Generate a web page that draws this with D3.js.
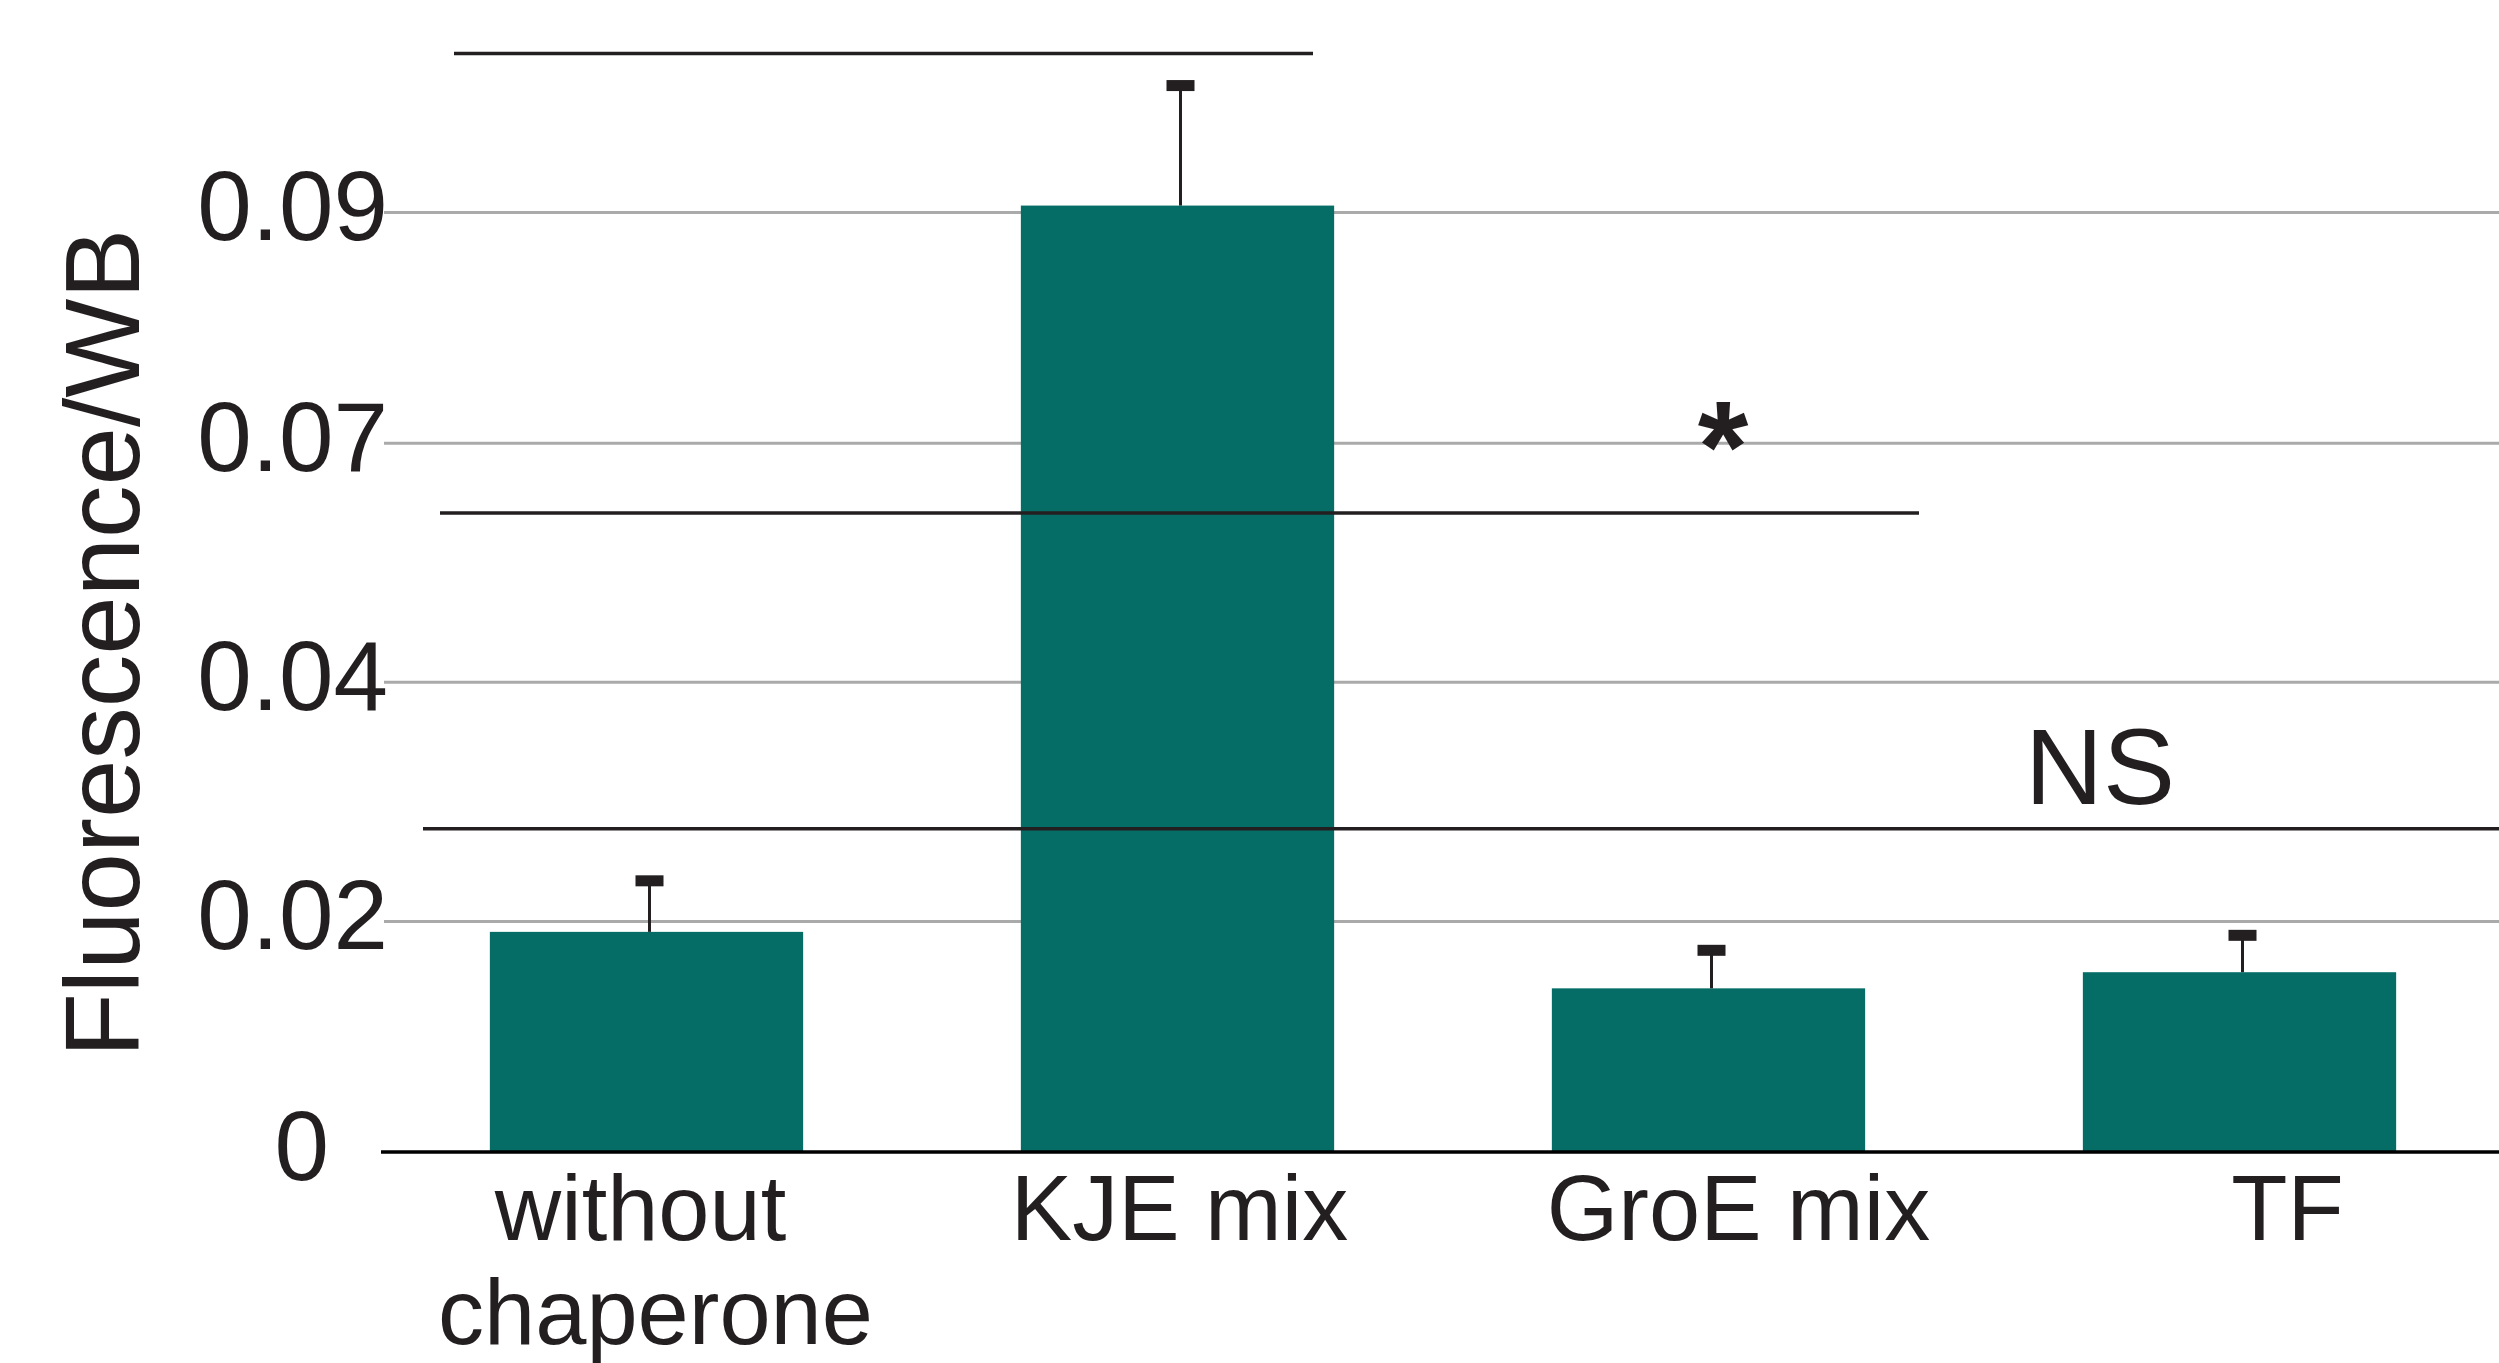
<!DOCTYPE html>
<html>
<head>
<meta charset="utf-8">
<script src="https://cdn.jsdelivr.net/npm/d3@7"></script>
<style>
  html, body { margin: 0; padding: 0; background: #ffffff; }
  svg { display: block; }
  text { font-family: "Liberation Sans", Arial, Helvetica, sans-serif; fill: #231f20; }
</style>
</head>
<body>
<svg id="chart" width="2499" height="1363"></svg>
<script>
// ---- data ----
const categories = ["without chaperone", "KJE mix", "GroE mix", "TF"];
const categoryLines = [["without", "chaperone"], ["KJE mix"], ["GroE mix"], ["TF"]];
const meanValues = [0.0191, 0.0906, 0.0142, 0.0156];
const errorTops = [0.0234, 0.1010, 0.0175, 0.0188];
const yTickValues = [0, 0.02, 0.04, 0.07, 0.09];
const yTickLabels = ["0", "0.02", "0.04", "0.07", "0.09"];
const yTitle = "Fluorescence/WB";
const sigLabels = ["", "*", "NS"];

// ---- layout ----
const W = 2499, H = 1363;
const yRange = [1152, 921.5, 682.2, 443.3, 212.5];   // tick rows are evenly spaced in the original
const xRange = [381, 2505];
const labelShift = [[-6, 9], [2], [30], [48]];
const sigLayout = [
  { y: 53.6, x1: 454, x2: 1313, tx: 0, ty: 0, size: 0 },
  { y: 513, x1: 440, x2: 1919, tx: 1723, ty: 492, size: 130 },
  { y: 828.7, x1: 423, x2: 2499, tx: 2100, ty: 803.7, size: 108 }
];
const barColor = "#066d66";
const ink = "#231f20";

const svg = d3.select("#chart");
svg.append("rect").attr("width", W).attr("height", H).attr("fill", "#ffffff");

const x = d3.scaleBand().domain(categories).range(xRange)
  .paddingInner(0.41).paddingOuter(0.205);
const y = d3.scaleLinear().domain(yTickValues).range(yRange);

// gridlines
svg.append("g").selectAll("line")
  .data(yTickValues.filter(d => d !== 0))
  .join("line")
  .attr("x1", 384).attr("x2", W)
  .attr("y1", d => y(d)).attr("y2", d => y(d))
  .attr("stroke", "#aaaaaa").attr("stroke-width", 3);

// bars
svg.append("g").selectAll("rect")
  .data(categories)
  .join("rect")
  .attr("x", d => x(d))
  .attr("width", x.bandwidth())
  .attr("y", (d, i) => y(meanValues[i]))
  .attr("height", (d, i) => y(0) - y(meanValues[i]))
  .attr("fill", barColor);

// error bars
const eg = svg.append("g");
categories.forEach((c, i) => {
  const cx = x(c) + x.bandwidth() / 2 + 3;
  eg.append("line")
    .attr("x1", cx).attr("x2", cx)
    .attr("y1", y(meanValues[i])).attr("y2", y(errorTops[i]))
    .attr("stroke", ink).attr("stroke-width", 3);
  eg.append("rect")
    .attr("x", cx - 14).attr("width", 28)
    .attr("y", y(errorTops[i]) - 5.5).attr("height", 11)
    .attr("fill", ink);
});

// x axis baseline
svg.append("line")
  .attr("x1", 381).attr("x2", W)
  .attr("y1", y(0)).attr("y2", y(0))
  .attr("stroke", "#000000").attr("stroke-width", 3.5);

// y axis labels
const yAxis = d3.axisLeft(y).tickValues(yTickValues)
  .tickFormat((d, i) => yTickLabels[i]).tickSize(0).tickPadding(0);
const ya = svg.append("g").attr("transform", "translate(388,0)").call(yAxis);
ya.select(".domain").remove();
ya.selectAll("text")
  .attr("font-family", "Liberation Sans, Arial, Helvetica, sans-serif")
  .attr("font-size", 98)
  .attr("fill", ink)
  .attr("dy", "0.28em")
  .attr("x", d => d === 0 ? -59 : 0);

// y title
svg.append("text")
  .attr("transform", "translate(139,643) rotate(-90)")
  .attr("text-anchor", "middle")
  .attr("font-size", 105)
  .text(yTitle);

// category labels
const lg = svg.append("g");
categories.forEach((c, i) => {
  const cx = x(c) + x.bandwidth() / 2;
  categoryLines[i].forEach((line, j) => {
    lg.append("text")
      .attr("x", cx + labelShift[i][j])
      .attr("y", 1240 + j * 104)
      .attr("text-anchor", "middle")
      .attr("font-size", 92)
      .text(line);
  });
});

// significance brackets
const sg = svg.append("g");
sigLayout.forEach((s, i) => {
  sg.append("line")
    .attr("x1", s.x1).attr("x2", s.x2)
    .attr("y1", s.y).attr("y2", s.y)
    .attr("stroke", ink).attr("stroke-width", 3.5);
  if (sigLabels[i]) {
    sg.append("text")
      .attr("x", s.tx).attr("y", s.ty)
      .attr("text-anchor", "middle")
      .attr("font-size", s.size)
      .attr("font-weight", sigLabels[i] === "*" ? "bold" : "normal")
      .text(sigLabels[i]);
  }
});
</script>
</body>
</html>
